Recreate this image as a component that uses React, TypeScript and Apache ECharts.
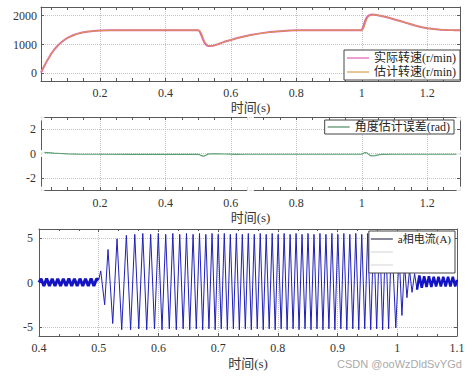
import React, { useEffect, useRef } from 'react';
import * as echarts from 'echarts';

// ---------- data ----------
const speedTime = [0.02, 0.03, 0.04, 0.05, 0.06, 0.07, 0.08, 0.09, 0.10, 0.11, 0.12, 0.13, 0.14, 0.15, 0.16, 0.18, 0.20, 0.23, 0.26, 0.30, 0.40, 0.50, 0.505, 0.51, 0.515, 0.52, 0.525, 0.53, 0.537, 0.545, 0.55, 0.56, 0.58, 0.60, 0.62, 0.64, 0.66, 0.68, 0.70, 0.72, 0.74, 0.76, 0.78, 0.80, 0.84, 0.88, 0.95, 1.00, 1.005, 1.01, 1.015, 1.02, 1.03, 1.04, 1.06, 1.08, 1.10, 1.12, 1.14, 1.16, 1.18, 1.20, 1.22, 1.24, 1.26, 1.28, 1.30];
const actualSpeed = [30, 260, 470, 660, 820, 950, 1060, 1150, 1220, 1280, 1330, 1370, 1400, 1425, 1445, 1470, 1485, 1495, 1500, 1500, 1500, 1500, 1450, 1320, 1170, 1050, 985, 955, 948, 958, 975, 1010, 1095, 1160, 1225, 1280, 1330, 1370, 1405, 1432, 1455, 1472, 1485, 1493, 1499, 1500, 1500, 1500, 1640, 1820, 1940, 2000, 2040, 2030, 1990, 1935, 1870, 1805, 1735, 1670, 1610, 1565, 1535, 1515, 1505, 1500, 1500];
const estSpeed = [80, 270, 470, 655, 815, 945, 1055, 1145, 1215, 1275, 1325, 1365, 1398, 1423, 1443, 1468, 1483, 1494, 1500, 1500, 1500, 1500, 1490, 1400, 1250, 1110, 1020, 970, 950, 955, 972, 1008, 1092, 1158, 1222, 1278, 1328, 1368, 1403, 1430, 1453, 1470, 1484, 1492, 1498, 1500, 1500, 1500, 1530, 1700, 1860, 1960, 2035, 2030, 1990, 1935, 1870, 1805, 1735, 1670, 1610, 1565, 1535, 1515, 1505, 1500, 1500];

const angleTime = [0.02, 0.04, 0.06, 0.08, 0.10, 0.13, 0.2, 0.3, 0.4, 0.5, 0.505, 0.51, 0.515, 0.52, 0.525, 0.53, 0.54, 0.56, 0.58, 0.6, 0.62, 0.64, 0.7, 0.8, 0.9, 1.0, 1.005, 1.01, 1.015, 1.02, 1.025, 1.03, 1.04, 1.05, 1.06, 1.1, 1.2, 1.3];
const angleErr = [0.10, 0.07, 0.03, 0.0, -0.03, -0.05, -0.06, -0.07, -0.07, -0.07, -0.1, -0.18, -0.22, -0.2, -0.12, -0.05, -0.02, -0.03, -0.04, -0.05, -0.07, -0.06, -0.06, -0.06, -0.06, -0.06, 0.02, 0.08, 0.06, -0.05, -0.15, -0.2, -0.18, -0.12, -0.08, -0.06, -0.06, -0.06];

// phase current extremes [time, A]
const rippleBefore = [
  [0.400, 0.0], [0.4035, 0.42], [0.4082, -0.4], [0.4128, 0.44], [0.4175, -0.38], [0.4221, 0.42], [0.4268, -0.4], [0.4314, 0.43],
  [0.4361, -0.4], [0.4407, 0.42], [0.4454, -0.39], [0.4500, 0.44], [0.4547, -0.4], [0.4593, 0.42], [0.4640, -0.4], [0.4686, 0.43],
  [0.4733, -0.38], [0.4779, 0.42], [0.4826, -0.4], [0.4872, 0.44], [0.4919, -0.4], [0.4965, 0.42], [0.500, 0.3],
];
const phaseCurrent = [
  [0.500, 0.3], [0.5034, 1.3], [0.5100, -2.5], [0.5156, 3.7], [0.5235, -4.6], [0.5307, 4.9], [0.5385, -5.3], [0.5463, 5.3],
  [0.5534, -5.3], [0.5604, 5.4], [0.5671, -5.2], [0.5738, 5.5], [0.5804, -5.3], [0.5870, 5.4], [0.5934, -5.2], [0.5998, 5.5],
  [0.6060, -5.3], [0.6122, 5.4], [0.6182, -5.2], [0.6241, 5.5], [0.6299, -5.3], [0.6357, 5.4], [0.6414, -5.2], [0.6470, 5.5],
  [0.6525, -5.3], [0.6580, 5.4], [0.6634, -5.2], [0.6688, 5.5], [0.6741, -5.3], [0.6794, 5.4], [0.6846, -5.2], [0.6898, 5.5],
  [0.6950, -5.3], [0.7001, 5.4], [0.7052, -5.2], [0.7103, 5.5], [0.7154, -5.3], [0.7204, 5.4], [0.7255, -5.2], [0.7305, 5.5],
  [0.7355, -5.3], [0.7405, 5.4], [0.7455, -5.2], [0.7505, 5.5], [0.7555, -5.3], [0.7605, 5.4], [0.7655, -5.2], [0.7705, 5.5],
  [0.7755, -5.3], [0.7805, 5.4], [0.7855, -5.2], [0.7905, 5.5], [0.7955, -5.3], [0.8005, 5.4], [0.8055, -5.2], [0.8105, 5.5],
  [0.8155, -5.3], [0.8205, 5.4], [0.8255, -5.2], [0.8305, 5.5], [0.8355, -5.3], [0.8405, 5.4], [0.8455, -5.2], [0.8505, 5.5],
  [0.8555, -5.3], [0.8605, 5.4], [0.8655, -5.2], [0.8705, 5.5], [0.8755, -5.3], [0.8805, 5.4], [0.8855, -5.2], [0.8905, 5.5],
  [0.8955, -5.3], [0.9005, 5.4], [0.9055, -5.2], [0.9105, 5.5], [0.9155, -5.3], [0.9205, 5.4], [0.9255, -5.2], [0.9305, 5.5],
  [0.9355, -5.3], [0.9405, 5.4], [0.9455, -5.2], [0.9505, 5.5], [0.9555, -5.3], [0.9605, 5.4], [0.9655, -5.2], [0.9705, 5.5],
  [0.9755, -5.3], [0.9805, 5.4], [0.9855, -5.2], [0.9905, 5.5], [0.9975, -5.1], [1.0030, 3.2], [1.0078, -3.7], [1.0120, 2.2],
  [1.0162, -1.7], [1.0205, 1.4], [1.0247, -1.1], [1.0290, 1.0], [1.0330, -0.8],
];
const rippleAfter = [
  [1.0330, -0.8], [1.0370, 0.8], [1.0410, -0.6], [1.0450, 0.7], [1.0490, -0.5], [1.0530, 0.7], [1.0570, -0.5], [1.0610, 0.65],
  [1.0650, -0.45], [1.0690, 0.65], [1.0730, -0.45], [1.0770, 0.65], [1.0810, -0.45], [1.0850, 0.65], [1.0890, -0.45], [1.0930, 0.65],
  [1.0970, -0.45], [1.1000, 0.3],
];

const speedTicks = [0, 1000, 2000];
const angleTicks = [-2, 0, 2];
const currentTicks = [-5, 0, 5];
const timeLabels = [0.2, 0.4, 0.6, 0.8, 1.0, 1.2];
const timeMinor = [0.05, 0.1, 0.15, 0.2, 0.25, 0.3, 0.35, 0.4, 0.45, 0.5, 0.55, 0.6, 0.65, 0.7, 0.75, 0.8, 0.85, 0.9, 0.95, 1.0, 1.05, 1.1, 1.15, 1.2, 1.25];
const handlePoints = [[0.02, 3], [0.02, 0], [0.02, -3], [0.66, 3], [0.66, -3], [1.3, 3], [1.3, 0], [1.3, -3]];

const SPEED_A = '实际转速(r/min)';
const SPEED_E = '估计转速(r/min)';
const ANGLE = '角度估计误差(rad)';
const CUR_A = 'a相电流(A)';

// ---------- styles ----------
const SERIF = "'Liberation Serif', 'Noto Sans CJK SC', serif";
const AX = '#5a5a5a';
const LBL = '#333';
const GRIDC = '#c4c4c4';
const fmt = (v: number) => String(parseFloat(Number(v).toFixed(2)));

function xBottom(gi: number, min: number, max: number, labelVals: number[] | null, tickVals: number[] | null, nameGap: number, labelMargin: number) {
  return {
    type: 'value', gridIndex: gi, min, max, position: 'bottom',
    ...(labelVals ? {} : { interval: 0.1 }),
    axisLine: { show: true, onZero: false, lineStyle: { color: AX, width: 1 } },
    axisTick: { show: true, inside: true, length: 3, ...(tickVals ? { customValues: tickVals } : {}), lineStyle: { color: AX } },
    minorTick: labelVals ? { show: false } : { show: true, splitNumber: 3, length: 2, lineStyle: { color: AX } },
    axisLabel: { ...(labelVals ? { customValues: labelVals } : {}), formatter: fmt, color: LBL, fontSize: 12, fontFamily: SERIF, margin: labelMargin, showMaxLabel: true, showMinLabel: true, hideOverlap: false },
    splitLine: labelVals ? { show: false } : { show: true, lineStyle: { color: GRIDC, type: 'dotted' } },
    name: '时间(s)', nameLocation: 'middle', nameGap,
    nameTextStyle: { fontSize: 13, color: LBL, fontFamily: SERIF },
  };
}
function xTop(gi: number, min: number, max: number, tickVals: number[] | null) {
  return {
    type: 'value', gridIndex: gi, min, max, position: 'top',
    ...(tickVals ? {} : { interval: 0.1 }),
    axisLine: { show: true, onZero: false, lineStyle: { color: AX, width: 1 } },
    axisTick: { show: true, inside: true, length: 3, ...(tickVals ? { customValues: tickVals } : {}), lineStyle: { color: AX } },
    minorTick: tickVals ? { show: false } : { show: true, splitNumber: 3, length: 2, lineStyle: { color: AX } },
    axisLabel: { show: false }, splitLine: { show: false },
  };
}
function xGridLines(gi: number, min: number, max: number, vals: number[]) {
  return {
    type: 'value', gridIndex: gi, min, max, position: 'bottom',
    axisLine: { show: false }, axisTick: { show: false, customValues: vals },
    axisLabel: { show: false, customValues: vals },
    splitLine: { show: true, lineStyle: { color: GRIDC, type: 'dotted' } },
  };
}
function yLeft(gi: number, min: number, max: number, vals: number[], margin: number) {
  return {
    type: 'value', gridIndex: gi, min, max, position: 'left',
    axisLine: { show: true, onZero: false, lineStyle: { color: AX, width: 1 } },
    axisTick: { show: true, inside: true, length: 3, customValues: vals, lineStyle: { color: AX } },
    axisLabel: { customValues: vals, formatter: fmt, color: LBL, fontSize: 12, fontFamily: SERIF, margin },
    splitLine: { show: true, lineStyle: { color: GRIDC, type: 'dotted' } },
  };
}
function yRight(gi: number, min: number, max: number, vals: number[]) {
  return {
    type: 'value', gridIndex: gi, min, max, position: 'right',
    axisLine: { show: true, onZero: false, lineStyle: { color: AX, width: 1 } },
    axisTick: { show: true, inside: true, length: 3, customValues: vals, lineStyle: { color: AX } },
    axisLabel: { show: false }, splitLine: { show: false },
  };
}

const legendBase = {
  orient: 'vertical', selectedMode: false, backgroundColor: '#fff',
  borderColor: '#444', borderWidth: 1, borderRadius: 0,
  icon: 'rect', itemWidth: 22, itemHeight: 1.2, itemGap: 2,
  textStyle: { fontSize: 12, lineHeight: 12, color: '#222', fontFamily: SERIF },
};

export default function App() {
  const ref = useRef<HTMLDivElement>(null);
  useEffect(() => {
    if (!ref.current) return;
    const chart = echarts.init(ref.current, undefined, { renderer: 'svg' });
    const zip = (t: number[], v: number[]) => t.map((x, i) => [x, v[i]]);
    const option: any = {
      animation: false,
      backgroundColor: '#fff',
      grid: [
        { left: 41, top: 7, width: 419, height: 74, containLabel: false, outerBoundsMode: 'none' },
        { left: 41, top: 117, width: 419, height: 73, containLabel: false, outerBoundsMode: 'none' },
        { left: 39, top: 229, width: 418, height: 107, containLabel: false, outerBoundsMode: 'none' },
      ],
      xAxis: [
        xBottom(0, 0.02, 1.3, timeLabels, timeMinor, 20, 6),
        xTop(0, 0.02, 1.3, timeMinor),
        xGridLines(0, 0.02, 1.3, timeLabels),
        xBottom(1, 0.02, 1.3, timeLabels, timeMinor, 21, 7),
        xTop(1, 0.02, 1.3, timeMinor),
        xGridLines(1, 0.02, 1.3, timeLabels),
        xBottom(2, 0.4, 1.1, null, null, 21, 6),
        xTop(2, 0.4, 1.1, null),
      ],
      yAxis: [
        yLeft(0, -260, 2300, speedTicks, 4),
        yRight(0, -260, 2300, speedTicks),
        yLeft(1, -3, 3, angleTicks, 5),
        yRight(1, -3, 3, angleTicks),
        yLeft(2, -6, 6, currentTicks, 6),
        yRight(2, -6, 6, currentTicks),
      ],
      legend: [
        {
          ...legendBase, right: 14, top: 50, padding: [2, 4, 2, 3],
          data: [
            { name: SPEED_A, itemStyle: { color: '#e060b0' } },
            { name: SPEED_E, itemStyle: { color: '#d9a14a' } },
          ],
        },
        {
          ...legendBase, right: 20, top: 120, padding: [1, 4, 1, 3],
          data: [{ name: ANGLE, itemStyle: { color: '#4f8a62' } }],
        },
        {
          ...legendBase, right: 19, top: 231, padding: [2, 4, 2, 2], itemGap: 1,
          textStyle: { fontSize: 11, lineHeight: 12, color: '#222', fontFamily: SERIF },
          formatter: (n: string) => (n === CUR_A ? n : '\u3000'),
          data: [
            { name: CUR_A, itemStyle: { color: '#3a3a55' } },
            { name: 'b', itemStyle: { color: '#dadada' } },
            { name: 'c', itemStyle: { color: '#dadada' } },
          ],
        },
      ],
      series: [
        {
          name: SPEED_A, type: 'line', xAxisIndex: 0, yAxisIndex: 0, symbol: 'none',
          data: zip(speedTime, actualSpeed), color: '#e566b0', lineStyle: { width: 2, color: '#e566b0' }, z: 3,
        },
        {
          name: SPEED_E, type: 'line', xAxisIndex: 0, yAxisIndex: 0, symbol: 'none',
          data: zip(speedTime, estSpeed), color: '#d9a14a', lineStyle: { width: 1, color: '#d49a45' }, z: 4,
        },
        {
          name: ANGLE, type: 'line', xAxisIndex: 3, yAxisIndex: 2, symbol: 'none',
          data: zip(angleTime, angleErr), color: '#4f9a6a', lineStyle: { width: 1.2, color: '#5a9f72' },
        },
        {
          name: 'handles', type: 'scatter', xAxisIndex: 3, yAxisIndex: 2, symbol: 'emptyRect', symbolSize: 5,
          clip: false, z: 10, data: handlePoints,
          itemStyle: { color: '#fff', borderColor: '#2f6fae', borderWidth: 1.3 },
        },
        {
          name: CUR_A, type: 'line', xAxisIndex: 6, yAxisIndex: 4, symbol: 'none',
          data: rippleBefore, color: '#1010c8', lineStyle: { width: 3, color: '#1414c4' },
        },
        {
          name: CUR_A, type: 'line', xAxisIndex: 6, yAxisIndex: 4, symbol: 'none',
          data: phaseCurrent, color: '#1010c8', lineStyle: { width: 1, color: '#2020b8' },
        },
        {
          name: CUR_A, type: 'line', xAxisIndex: 6, yAxisIndex: 4, symbol: 'none',
          data: rippleAfter, color: '#1010c8', lineStyle: { width: 2.5, color: '#1414c4' },
        },
        { name: 'b', type: 'line', xAxisIndex: 6, yAxisIndex: 4, symbol: 'none', data: [], color: '#dadada' },
        { name: 'c', type: 'line', xAxisIndex: 6, yAxisIndex: 4, symbol: 'none', data: [], color: '#dadada' },
      ],
      graphic: [
        {
          type: 'text', left: 337, top: 358,
          style: { text: 'CSDN @ooWzDldSvYGd', fill: '#aaaaaa', fontSize: 11, fontFamily: "'Liberation Sans', Arial, sans-serif" },
        },
      ],
    };
    chart.setOption(option);
    return () => chart.dispose();
  }, []);
  return <div ref={ref} style={{ position: 'fixed', left: 0, top: 0, width: 474, height: 376, background: '#fff' }} />;
}
